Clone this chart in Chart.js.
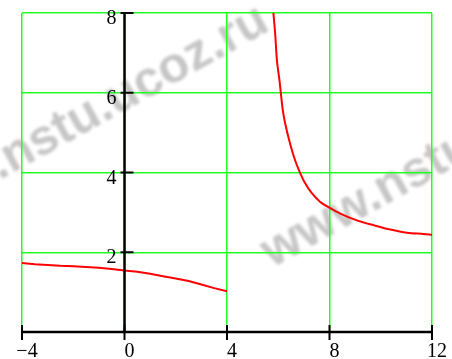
<!DOCTYPE html>
<html>
<head>
<meta charset="utf-8">
<script src="https://cdn.jsdelivr.net/npm/chart.js@4.4.0/dist/chart.umd.min.js"></script>
<style>
  html, body { margin: 0; padding: 0; background: #fff; }
  #grafico { display: block; }
</style>
</head>
<body>
<canvas id="grafico" width="452" height="359"></canvas>
<script>
// Datos
const xTicks = [-4, 0, 4, 8, 12];
const xTickLabels = ['\u22124', '0', '4', '8', '12'];
const yTicks = [2, 4, 6, 8];
const yTickLabels = ['2', '4', '6', '8'];

// Rama izquierda (x de -4 a 4)
const xIzq = [-4, -3.5, -3, -2.5, -2, -1.5, -1, -0.5, 0, 0.5, 1, 1.5, 2, 2.5, 3, 3.5, 4];
const yIzq = [1.73, 1.70, 1.68, 1.66, 1.65, 1.63, 1.61, 1.58, 1.54, 1.51, 1.46, 1.40, 1.34, 1.28, 1.19, 1.10, 1.02];

// Rama derecha (desde la asíntota hasta x = 12)
const xDer = [5.81, 5.88, 5.95, 6.05, 6.1, 6.18, 6.27, 6.46, 6.66, 6.86, 7.05, 7.31, 7.64, 7.96, 8.42, 9.07, 9.72, 10.37, 11.02, 11.67, 12];
const yDer = [8.0, 7.48, 6.8, 6.3, 6.0, 5.55, 5.23, 4.73, 4.30, 3.98, 3.73, 3.48, 3.26, 3.13, 2.97, 2.80, 2.68, 2.57, 2.49, 2.46, 2.44];

// Marca de agua
const marca = 'www.nstu.ucoz.ru';

function puntos(xs, ys) {
    return xs.map((x, i) => ({ x: x, y: ys[i] }));
}

// Fondo blanco y marca de agua (debajo de todo)
const fondoPlugin = {
    id: 'fondo',
    beforeDraw(chart) {
        const ctx = chart.ctx;
        ctx.save();
        ctx.fillStyle = '#fff';
        ctx.fillRect(0, 0, chart.width, chart.height);
        ctx.filter = 'blur(1.6px)';
        ctx.fillStyle = '#c6c6c6';
        ctx.font = 'bold 50px "Liberation Sans"';
        ctx.textAlign = 'left';
        ctx.textBaseline = 'alphabetic';
        [[-101, 236], [272, 268]].forEach(p => {
            ctx.save();
            ctx.translate(p[0], p[1]);
            ctx.rotate(-29 * Math.PI / 180);
            ctx.fillText(marca, 0, 0);
            ctx.restore();
        });
        ctx.restore();
    }
};

// Ejes negros en x = 0 y y = 0, marcas y etiquetas
const ejesPlugin = {
    id: 'ejes',
    afterDatasetsDraw(chart) {
        const ctx = chart.ctx;
        const sx = chart.scales.x;
        const sy = chart.scales.y;
        const x0 = sx.getPixelForValue(0);
        const y0 = sy.getPixelForValue(0);
        const area = chart.chartArea;

        ctx.save();
        ctx.strokeStyle = '#000';
        ctx.lineWidth = 2.5;
        ctx.beginPath();
        ctx.moveTo(x0, area.top);
        ctx.lineTo(x0, y0);
        ctx.moveTo(area.left, y0);
        ctx.lineTo(area.right, y0);
        ctx.stroke();

        ctx.lineWidth = 2;
        ctx.beginPath();
        yTicks.forEach(v => {
            const py = sy.getPixelForValue(v);
            ctx.moveTo(x0 - 4, py);
            ctx.lineTo(x0 + 9, py);
        });
        xTicks.forEach(v => {
            const px = sx.getPixelForValue(v);
            ctx.moveTo(px, y0 - 7);
            ctx.lineTo(px, y0 + 8);
        });
        ctx.stroke();

        ctx.fillStyle = '#000';
        ctx.font = '20px "Liberation Serif"';
        ctx.textBaseline = 'alphabetic';
        ctx.textAlign = 'right';
        yTicks.forEach((v, i) => {
            ctx.fillText(yTickLabels[i], x0 - 8, sy.getPixelForValue(v) + 11);
        });
        ctx.textAlign = 'center';
        xTicks.forEach((v, i) => {
            ctx.fillText(xTickLabels[i], sx.getPixelForValue(v) + 5, y0 + 25);
        });
        ctx.restore();
    }
};

const grafico = new Chart(document.getElementById('grafico'), {
    type: 'scatter',
    data: {
        datasets: [{
            data: puntos(xIzq, yIzq),
            showLine: true,
            borderColor: '#ff0000',
            borderWidth: 2,
            pointRadius: 0,
            tension: 0
        }, {
            data: puntos(xDer, yDer),
            showLine: true,
            borderColor: '#ff0000',
            borderWidth: 2,
            pointRadius: 0,
            tension: 0.3
        }]
    },
    options: {
        responsive: false,
        animation: false,
        devicePixelRatio: 1,
        layout: {
            padding: { left: 22, top: 13, right: 20, bottom: 27 }
        },
        plugins: {
            legend: { display: false },
            tooltip: { enabled: false }
        },
        scales: {
            x: {
                type: 'linear',
                min: -4,
                max: 12,
                afterBuildTicks: scale => { scale.ticks = xTicks.map(v => ({ value: v })); },
                ticks: { display: false },
                border: { display: false },
                grid: { color: '#22ff22', lineWidth: 1.5, drawTicks: false }
            },
            y: {
                type: 'linear',
                min: 0,
                max: 8,
                afterBuildTicks: scale => { scale.ticks = yTicks.map(v => ({ value: v })); },
                ticks: { display: false },
                border: { display: false },
                grid: { color: '#22ff22', lineWidth: 1.5, drawTicks: false }
            }
        }
    },
    plugins: [fondoPlugin, ejesPlugin]
});
</script>
</body>
</html>
